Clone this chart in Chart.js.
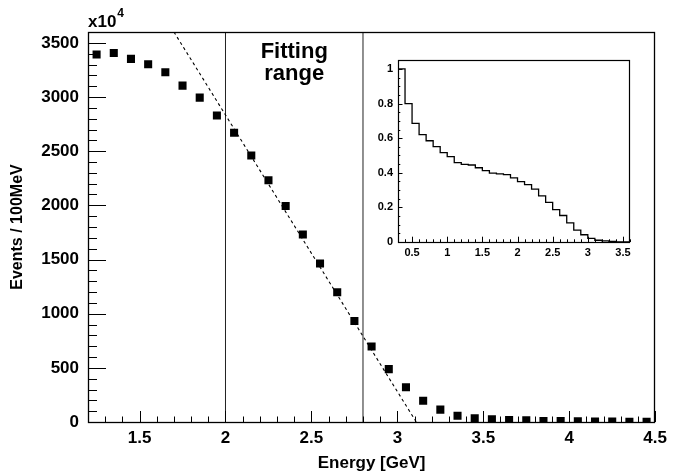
<!DOCTYPE html>
<html><head><meta charset="utf-8">
<script src="https://cdn.jsdelivr.net/npm/chart.js@4.4.0/dist/chart.umd.min.js"></script>
<style>
html,body{margin:0;padding:0;background:#fff;}
#wrap{position:relative;width:673px;height:476px;overflow:hidden;}
#main{position:absolute;left:0;top:0;}
#inset{position:absolute;left:360px;top:48px;}
</style></head><body>
<div id="wrap">
<canvas id="main" width="673" height="476"></canvas>
<canvas id="inset" width="280" height="220"></canvas>
</div>
<script>
// ---- main histogram (bin centres, GeV) ----
const energy = [1.25,1.35,1.45,1.55,1.65,1.75,1.85,1.95,2.05,2.15,2.25,2.35,2.45,2.55,2.65,2.75,2.85,2.95,3.05,3.15,3.25,3.35,3.45,3.55,3.65,3.75,3.85,3.95,4.05,4.15,4.25,4.35,4.45];
const events = [3393,3407,3352,3303,3229,3105,2994,2829,2670,2460,2231,1994,1731,1463,1198,932,697,488,321,197,114,58,34,25,18,15,10,8,6,5,4,3,2];
// linear fit (dashed line) end points
const fitX = [1.70, 3.11];
const fitY = [3600, 0];
// fitting range limits
const rangeLimits = [2.0, 2.8];
const rangeLabel = ["Fitting", "range"];
const xTickLabels = [1.5,2,2.5,3,3.5,4,4.5];
const yTickLabels = [0,500,1000,1500,2000,2500,3000,3500];
const xTitle = "Energy [GeV]";
const yTitle = "Events / 100MeV";
// ---- inset histogram ----
const insetBinLow = [0.3,0.4,0.5,0.6,0.7,0.8,0.9,1.0,1.1,1.2,1.3,1.4,1.5,1.6,1.7,1.8,1.9,2.0,2.1,2.2,2.3,2.4,2.5,2.6,2.7,2.8,2.9,3.0,3.1,3.2,3.3,3.4,3.5];
const insetValues = [1.0,0.80,0.686,0.62,0.585,0.551,0.516,0.493,0.459,0.449,0.445,0.429,0.413,0.398,0.394,0.389,0.371,0.349,0.332,0.305,0.267,0.229,0.187,0.153,0.111,0.069,0.042,0.021,0.010,0.006,0.003,0.001,0];
const insetBinWidth = 0.1;
const insetXTicks = [0.5,1,1.5,2,2.5,3,3.5];
const insetYTicks = [0,0.2,0.4,0.6,0.8,1];

const FONT = "'Liberation Sans', Arial, Helvetica, sans-serif";
Chart.defaults.font.family = FONT;
Chart.defaults.color = '#000';

function fmt(v){ return String(Math.round(v*1000)/1000); }

function tickPlugin(cfg){
  return {
    id: 'rootAxes_' + cfg.name,
    afterDatasetsDraw(chart){
      const {ctx, chartArea:a, scales:{x, y}} = chart;
      ctx.save();
      ctx.strokeStyle = '#000';
      ctx.lineWidth = 1;
      ctx.beginPath();
      const nx = Math.round((x.max - x.min)/cfg.xMinor);
      for (let i=0;i<=nx;i++){
        const v = Math.round((x.min + i*cfg.xMinor)*1000)/1000;
        const major = cfg.xMajor.some(t=>Math.abs(t-v)<1e-6);
        const p = Math.round(x.getPixelForValue(v)) + 0.5;
        ctx.moveTo(p, a.bottom);
        ctx.lineTo(p, a.bottom - (major?cfg.xMajorLen:cfg.xMinorLen));
      }
      const ny = Math.round((y.max - y.min)/cfg.yMinor);
      for (let i=0;i<=ny;i++){
        const v = Math.round((y.min + i*cfg.yMinor)*1000)/1000;
        const major = cfg.yMajor.some(t=>Math.abs(t-v)<1e-6);
        const p = Math.round(y.getPixelForValue(v)) + 0.5;
        ctx.moveTo(a.left, p);
        ctx.lineTo(a.left + (major?cfg.yMajorLen:cfg.yMinorLen), p);
      }
      ctx.stroke();
      ctx.lineWidth = cfg.frameWidth;
      ctx.strokeRect(Math.round(a.left)+0.5, Math.round(a.top)+0.5, Math.round(a.right-a.left)-1, Math.round(a.bottom-a.top));
      ctx.restore();
      if (cfg.extra) cfg.extra(chart);
    }
  };
}

// ---------- main chart ----------
new Chart(document.getElementById('main'), {
  type: 'scatter',
  data: {
    datasets: [
      {
        label: 'data',
        data: energy.map((e,i)=>({x:e, y:events[i]})),
        pointStyle: 'rect',
        pointRadius: 5.7,
        pointBorderWidth: 0,
        backgroundColor: '#000',
        borderColor: '#000',
        showLine: false,
        order: 1
      },
      {
        label: 'fit',
        type: 'line',
        data: fitX.map((e,i)=>({x:e, y:fitY[i]})),
        borderColor: '#000',
        borderWidth: 1.1,
        borderDash: [3,3],
        pointRadius: 0,
        fill: false,
        order: 2
      },
      ...rangeLimits.map(r=>({
        label: 'range',
        type: 'line',
        data: [{x:r, y:0},{x:r, y:3600}],
        borderColor: '#222',
        borderWidth: 1,
        pointRadius: 0,
        fill: false,
        order: 3
      }))
    ]
  },
  options: {
    responsive: false,
    animation: false,
    events: [],
    layout: { padding: { left:0, top:32, right:10, bottom:0 } },
    plugins: { legend:{display:false}, tooltip:{enabled:false} },
    scales: {
      x: {
        type: 'linear', min: 1.2, max: 4.5,
        afterBuildTicks(s){ s.ticks = xTickLabels.map(v=>({value:v})); },
        afterFit(s){ s.height = 54; },
        grid: { display:false, drawTicks:false },
        border: { display:false },
        ticks: { padding: 6, font:{size:17, weight:'bold'}, callback: v=>fmt(v), maxRotation:0, autoSkip:false },
        title: { display:true, text:xTitle, font:{size:17, weight:'bold'}, padding:{top:0,bottom:2} }
      },
      y: {
        type: 'linear', min: 0, max: 3600,
        afterBuildTicks(s){ s.ticks = yTickLabels.map(v=>({value:v})); },
        afterFit(s){ s.width = 88; },
        grid: { display:false, drawTicks:false },
        border: { display:false },
        ticks: { padding: 9, font:{size:17, weight:'bold'}, callback: v=>fmt(v), autoSkip:false },
        title: { display:true, text:yTitle, font:{size:16, weight:'bold'}, padding:{top:8,bottom:0} }
      }
    }
  },
  plugins: [tickPlugin({
    name:'main', xMinor:0.1, xMajor:xTickLabels, xMajorLen:11, xMinorLen:5.5,
    yMinor:100, yMajor:yTickLabels, yMajorLen:18, yMinorLen:9, frameWidth:1.3,
    extra(chart){
      const {ctx, chartArea:a, scales:{x}} = chart;
      ctx.save();
      ctx.fillStyle = '#000';
      ctx.textAlign = 'center';
      ctx.textBaseline = 'alphabetic';
      ctx.font = 'bold 22px ' + FONT;
      const cx = x.getPixelForValue((rangeLimits[0]+rangeLimits[1])/2);
      ctx.fillText(rangeLabel[0], cx, a.top + 26);
      ctx.fillText(rangeLabel[1], cx, a.top + 48);
      ctx.textAlign = 'left';
      ctx.font = 'bold 17px ' + FONT;
      ctx.fillText('x10', a.left, a.top - 5);
      const w = ctx.measureText('x10').width;
      ctx.font = 'bold 12px ' + FONT;
      ctx.fillText('4', a.left + w + 1, a.top - 15);
      ctx.restore();
    }
  })]
});

// ---------- inset chart ----------
const histPts = insetBinLow.map((b,i)=>({x:b, y:insetValues[i]}));
histPts.push({x: Math.round((insetBinLow[insetBinLow.length-1]+insetBinWidth)*1000)/1000, y: insetValues[insetValues.length-1]});

new Chart(document.getElementById('inset'), {
  type: 'line',
  data: {
    datasets: [{
      label: 'inset',
      data: histPts,
      stepped: 'before',
      borderColor: '#000',
      borderWidth: 1.3,
      pointRadius: 0,
      fill: false
    }]
  },
  options: {
    responsive: false,
    animation: false,
    events: [],
    layout: { padding: { left:0, top:10, right:10, bottom:0 } },
    plugins: { legend:{display:false}, tooltip:{enabled:false} },
    scales: {
      x: {
        type:'linear', min:0.3, max:3.6,
        afterBuildTicks(s){ s.ticks = insetXTicks.map(v=>({value:v})); },
        afterFit(s){ s.height = 26; },
        grid:{display:false, drawTicks:false},
        border:{display:false},
        ticks:{ padding:4, font:{size:11, weight:'bold'}, callback:v=>fmt(v), maxRotation:0, autoSkip:false }
      },
      y: {
        type:'linear', min:0, max:1.054,
        afterBuildTicks(s){ s.ticks = insetYTicks.map(v=>({value:v})); },
        afterFit(s){ s.width = 38; },
        grid:{display:false, drawTicks:false},
        border:{display:false},
        ticks:{ padding:5, font:{size:11, weight:'bold'}, callback:v=>fmt(v), autoSkip:false }
      }
    }
  },
  plugins: [tickPlugin({
    name:'inset', xMinor:0.1, xMajor:insetXTicks, xMajorLen:5.3, xMinorLen:2.7,
    yMinor:0.05, yMajor:insetYTicks, yMajorLen:4.5, yMinorLen:2.3, frameWidth:1.2
  })]
});
</script>
</body></html>
